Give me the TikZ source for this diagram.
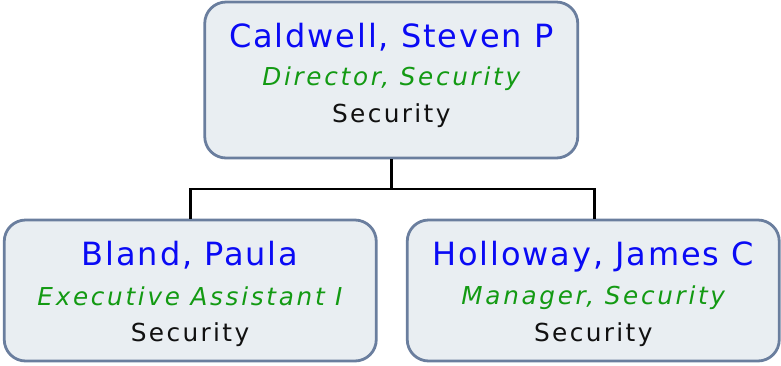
\documentclass[tikz,border=0pt]{standalone}
\usepackage{fontspec}
\setmainfont{DejaVu Sans}
\newfontfamily\namefont[LetterSpace=5.9]{DejaVu Sans}
\newfontfamily\titlefont[LetterSpace=11]{DejaVu Sans Oblique}
\newfontfamily\deptfont[LetterSpace=9.5]{DejaVu Sans}
\definecolor{boxfill}{HTML}{E9EEF2}
\definecolor{boxline}{HTML}{6A7E9E}
\definecolor{namecol}{HTML}{0A0AF5}
\definecolor{titlecol}{HTML}{139A13}
\definecolor{deptcol}{HTML}{111111}
\begin{document}
\begin{tikzpicture}[x=0.75pt,y=-0.75pt,
  card/.style={draw=boxline,fill=boxfill,line width=2.1pt,rounded corners=16pt,inner sep=0pt},
  nametext/.style={anchor=base,inner sep=0pt,text=namecol,font=\namefont\fontsize{24pt}{27pt}\selectfont},
  titletext/.style={anchor=base,inner sep=0pt,text=titlecol,font=\titlefont\fontsize{18.5pt}{21pt}\selectfont},
  depttext/.style={anchor=base,inner sep=0pt,text=deptcol,font=\deptfont\fontsize{18.6pt}{21pt}\selectfont},
  link/.style={draw=black,line width=1.9pt}]
\useasboundingbox (0,0) rectangle (781,365);
\node[card,minimum width=279.75pt,minimum height=117pt] (top) at (391.25,80) {};
\node[card,minimum width=279pt,minimum height=105.75pt] (bl) at (190.25,290.5) {};
\node[card,minimum width=279pt,minimum height=105.75pt] (br) at (593.25,290.5) {};
\coordinate (bus) at (391.25,189);
\draw[link] (top.south) -- (bus);
\draw[link] (bl.north -| 190.5,0) |- (bus) -| (br.north -| 594.5,0);
\node[nametext] (n1) at (391.25,47.5) {Caldwell, Steven P};
\node[titletext] (t1) at (391.25,85) {Director, Security};
\node[depttext] (d1) at (391.25,122) {Security};
\node[nametext] (n2) at (190,265) {Bland, Paula};
\node[titletext] (t2) at (190,305) {Executive Assistant I};
\node[depttext] (d2) at (190,341) {Security};
\node[nametext] (n3) at (593.25,265) {Holloway, James C};
\node[titletext] (t3) at (593.25,304.5) {Manager, Security};
\node[depttext] (d3) at (593.25,341) {Security};
\end{tikzpicture}
\end{document}
